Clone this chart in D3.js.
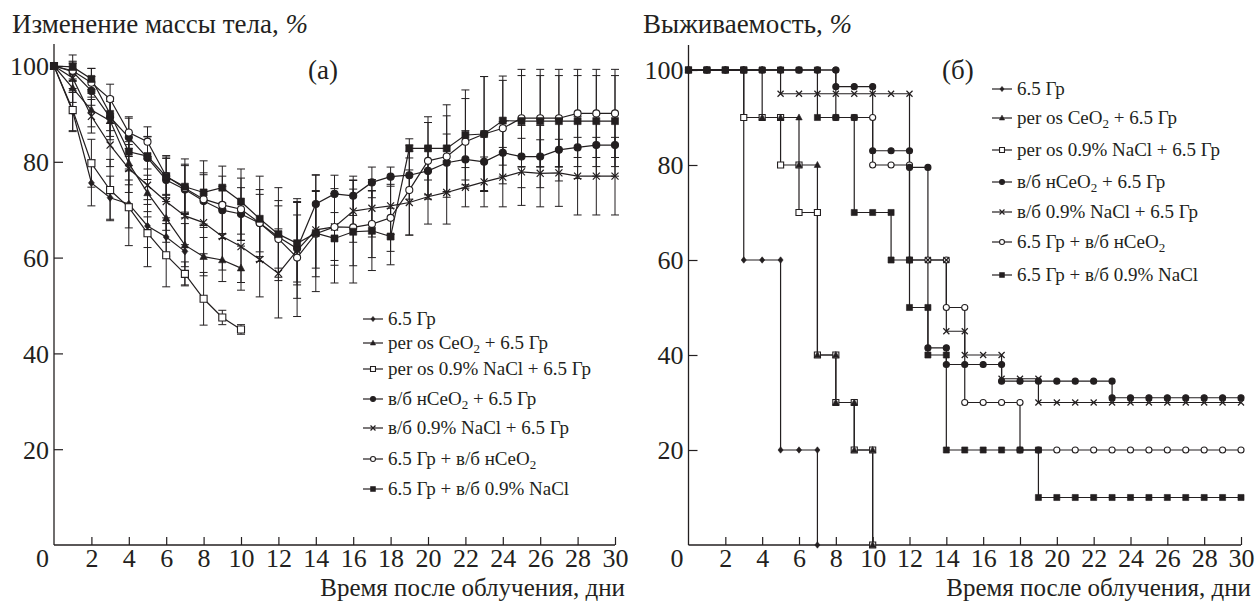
<!DOCTYPE html>
<html><head><meta charset="utf-8">
<script src="https://cdn.jsdelivr.net/npm/d3@7"></script>
<style>
body{margin:0;background:#fff}
svg{display:block}
text{font-family:"Liberation Serif","Times New Roman",serif;fill:#231f20}
</style>
</head><body>
<svg id="chart" width="1259" height="603"></svg>
<script>
// ---------- DATA ----------
const groupNames = ["6.5 Гр","per os CeO₂ + 6.5 Гр","per os 0.9% NaCl + 6.5 Гр","в/б нCeO₂ + 6.5 Гр","в/б 0.9% NaCl + 6.5 Гр","6.5 Гр + в/б нCeO₂","6.5 Гр + в/б 0.9% NaCl"];
const dayTicks = [0,2,4,6,8,10,12,14,16,18,20,22,24,26,28,30];
const valueTicks = [20,40,60,80,100];
const days = [0,1,2,3,4,5,6,7,8,9,10,11,12,13,14,15,16,17,18,19,20,21,22,23,24,25,26,27,28,29,30];

// (a) body mass change, % (mean and error)
const massGy      = [100,90.5,75.6,72.5,71.2,66.6,64.3,61.3];
const massGySd    = [0,4.0,4.8,4.5,5.0,4.5,4.0,7.0];
const massOralCe  = [100,95.4,90.8,88.6,79.7,73.5,68.2,62.6,60.2,59.5,57.8];
const massOralCeSd= [0,3.0,3.5,4.0,4.5,5.0,5.0,4.5,4.0,4.5,4.6];
const massOralNa  = [100,90.8,79.7,74.1,70.5,65.1,60.5,56.6,51.4,47.5,45.0];
const massOralNaSd= [0,4.5,5.0,6.4,8.0,7.0,6.6,2.5,5.5,1.5,1.0];
const massIpCe    = [100,98.8,94.8,89.3,85.1,80.8,76.2,74.2,71.8,69.9,69.1,67.2,64.3,61.9,71.2,73.3,72.9,75.7,76.9,77.2,78.1,79.8,80.5,80.0,81.9,81.1,81.1,82.5,83.0,83.5,83.5];
const massIpCeSd  = [0,2.0,3.0,4.0,4.0,4.5,4.5,5.0,5.5,5.0,5.5,6.0,6.5,7.0,6.0,3.9,4.1,3.2,2.0,5.0,5.0,6.0,6.0,6.0,6.5,6.5,6.5,6.5,6.5,6.5,6.5];
const massIpNa    = [100,97.5,89.5,83.5,78.6,75.1,71.7,68.7,67.3,64.4,62.3,59.6,56.7,61.5,65.8,66.4,69.7,70.3,70.8,71.5,72.7,73.6,74.7,75.8,76.8,77.9,77.6,77.7,77.0,77.0,77.0];
const massIpNaSd  = [0,3.0,3.5,4.5,5.0,5.5,6.0,6.0,6.5,7.0,7.5,7.8,9.3,10.0,8.0,7.0,6.5,6.0,6.0,6.8,5.7,6.6,4.1,5.2,6.2,7.0,7.0,7.0,8.1,8.1,8.1];
const massPostCe  = [100,99.0,96.5,93.1,86.1,84.2,77.0,74.5,72.2,71.0,70.1,67.2,63.9,60.0,65.0,66.4,66.3,67.0,68.3,74.1,80.2,81.1,84.2,85.8,87.0,89.1,89.1,89.1,90.1,90.1,90.1];
const massPostCeSd= [0,2.0,3.0,3.1,3.3,3.1,4.0,5.0,5.5,6.0,6.5,7.0,8.0,12.3,9.0,8.0,8.0,7.0,7.0,9.4,8.0,8.5,9.0,12.0,10.0,10.2,10.2,10.2,9.2,9.2,9.2];
const massPostNa  = [100,99.8,97.3,90.0,82.1,81.2,76.9,74.8,73.6,74.6,71.7,68.1,64.9,63.0,65.1,64.0,65.4,65.6,64.4,82.8,82.8,82.8,85.6,85.8,88.6,88.5,88.5,88.5,88.5,88.5,88.5];
const massPostNaSd= [0,2.5,2.2,3.5,4.0,4.0,4.4,5.8,6.6,4.5,6.8,8.9,9.7,8.7,12.2,9.3,10.7,8.3,5.9,2.0,6.6,9.1,9.4,12.0,9.3,9.5,9.5,9.5,9.5,9.5,9.5];

// (б) survival, % (step points: day, value)
const survGyDays      = [0,1,2,3,3,4,5,5,6,7,7];
const survGyVals      = [100,100,100,100,60,60,60,20,20,20,0];
const survOralCeDays  = [0,1,2,3,4,4,5,6,6,7,7,8,8,9,9,10,10];
const survOralCeVals  = [100,100,100,100,100,90,90,90,80,80,40,40,30,30,20,20,0];
const survOralNaDays  = [0,1,2,3,3,4,5,5,6,6,7,7,8,8,9,9,10,10];
const survOralNaVals  = [100,100,100,100,90,90,90,80,80,70,70,40,40,30,30,20,20,0];
const survIpCeDays    = [0,1,2,3,4,5,6,7,8,8,9,10,10,11,12,12,13,13,14,14,15,16,17,17,18,19,20,21,22,23,23,24,25,26,27,28,29,30];
const survIpCeVals    = [100,100,100,100,100,100,100,100,100,96.5,96.5,96.5,83,83,83,79.5,79.5,41.5,41.5,38,38,38,38,34.5,34.5,34.5,34.5,34.5,34.5,34.5,31,31,31,31,31,31,31,31];
const survIpNaDays    = [0,1,2,3,4,5,5,6,7,8,9,10,11,12,12,13,14,14,15,15,16,17,17,18,19,19,20,21,22,23,24,25,26,27,28,29,30];
const survIpNaVals    = [100,100,100,100,100,100,95,95,95,95,95,95,95,95,60,60,60,45,45,40,40,40,35,35,35,30,30,30,30,30,30,30,30,30,30,30,30];
const survPostCeDays  = [0,1,2,3,4,5,6,7,8,8,9,10,10,11,12,12,13,14,14,15,15,16,17,18,18,19,20,21,22,23,24,25,26,27,28,29,30];
const survPostCeVals  = [100,100,100,100,100,100,100,100,100,90,90,90,80,80,80,60,60,60,50,50,30,30,30,30,20,20,20,20,20,20,20,20,20,20,20,20,20];
const survPostNaDays  = [0,1,2,3,4,5,6,7,7,8,9,9,10,11,11,12,12,13,13,14,14,15,16,17,18,19,19,20,21,22,23,24,25,26,27,28,29,30];
const survPostNaVals  = [100,100,100,100,100,100,100,100,90,90,90,70,70,70,60,60,50,50,40,40,20,20,20,20,20,20,10,10,10,10,10,10,10,10,10,10,10,10];

// ---------- STYLE ----------
const ink = "#231f20";
const symbolTypes = ["diamond","triangle","squareOpen","circle","cross","circleOpen","square"];
const leftSize = 3.7, rightSize = 3.2, legendSize = 2.6;
const bigFont = 27, tickFont = 26, xTitleFont = 25;

const svg = d3.select("#chart");

function markerPath(type, r){
  switch(type){
    case "diamond": return `M0,${-r}L${r*0.8},0L0,${r}L${-r*0.8},0Z`;
    case "triangle": return `M0,${-r*1.1}L${r*1.0},${r*0.75}L${-r*1.0},${r*0.75}Z`;
    case "square": case "squareOpen": { const s=r*0.95; return `M${-s},${-s}H${s}V${s}H${-s}Z`; }
    case "cross": { const s=r*0.95; return `M${-s},${-s}L${s},${s}M${-s},${s}L${s},${-s}`; }
  }
  return null;
}
function drawMarker(g, type, x, y, r){
  const open = type==="squareOpen"||type==="circleOpen";
  if(type==="circle"||type==="circleOpen"){
    g.append("circle").attr("cx",x).attr("cy",y).attr("r",r*0.95)
      .attr("fill",open?"#fff":ink).attr("stroke",ink).attr("stroke-width",1.1);
  } else if(type==="cross"){
    g.append("path").attr("d",markerPath(type,r)).attr("transform",`translate(${x},${y})`)
      .attr("fill","none").attr("stroke",ink).attr("stroke-width",1.2);
  } else {
    g.append("path").attr("d",markerPath(type,r)).attr("transform",`translate(${x},${y})`)
      .attr("fill",open?"#fff":ink).attr("stroke",ink).attr("stroke-width",open?1.1:0.6);
  }
}
function addLabel(textSel, str){
  const parts = str.split("₂");
  parts.forEach((p,i)=>{
    const t = textSel.append("tspan").text(p);
    if(i>0) t.attr("dy",-4);
    if(i<parts.length-1){
      textSel.append("tspan").text("2").attr("font-size",13).attr("dy",4);
    }
  });
}

function drawAxes(x, y, yTop, title, titleX, xTitleEnd, panelLabel, panelLabelX){
  const g = svg.append("g");
  g.append("line").attr("x1",x(0)).attr("x2",x(0)).attr("y1",y(0)).attr("y2",yTop)
    .attr("stroke",ink).attr("stroke-width",1.3);
  g.append("line").attr("x1",x(0)).attr("x2",x(30)).attr("y1",y(0)).attr("y2",y(0))
    .attr("stroke",ink).attr("stroke-width",1.3);
  const xa = g.append("g").attr("transform",`translate(0,${y(0)})`)
    .call(d3.axisBottom(x).tickValues(dayTicks).tickSize(-8).tickPadding(8).tickFormat(d3.format("d")));
  xa.select(".domain").remove();
  xa.selectAll(".tick line").attr("stroke",ink).attr("stroke-width",1.2);
  xa.selectAll(".tick text").attr("font-family","Liberation Serif, serif").attr("font-size",tickFont).attr("fill",ink)
    .attr("y",null).attr("dy",null).attr("transform","translate(0,22)")
    .attr("dx",d=>d===0?-12:0);
  xa.selectAll(".tick").filter(d=>d===0).select("line").remove();
  const ya = g.append("g").attr("transform",`translate(${x(0)},0)`)
    .call(d3.axisLeft(y).tickValues(valueTicks).tickSize(-9).tickPadding(5));
  ya.select(".domain").remove();
  ya.selectAll(".tick line").attr("stroke",ink).attr("stroke-width",1.2);
  ya.selectAll(".tick text").attr("font-family","Liberation Serif, serif").attr("font-size",tickFont).attr("fill",ink).attr("dy","0.34em");
  const t = g.append("text").attr("x",titleX).attr("y",33).attr("font-size",bigFont);
  t.append("tspan").text(title);
  t.append("tspan").text("%").attr("font-style","italic");
  g.append("text").attr("x",xTitleEnd).attr("y",596).attr("text-anchor","end").attr("font-size",xTitleFont)
    .text("Время после облучения, дни");
  g.append("text").attr("x",panelLabelX).attr("y",79).attr("font-size",bigFont).text(panelLabel);
}

function drawLegend(x0, rows){
  const g = svg.append("g");
  groupNames.forEach((name,i)=>{
    const yy = rows[i];
    g.append("line").attr("x1",x0).attr("x2",x0+20).attr("y1",yy).attr("y2",yy)
      .attr("stroke",ink).attr("stroke-width",1.2);
    drawMarker(g, symbolTypes[i], x0+10, yy, legendSize);
    const t = g.append("text").attr("x",x0+25).attr("y",yy).attr("dy","0.33em").attr("font-size",19);
    addLabel(t, name);
  });
}

// ---------- PANEL (a) ----------
const xa = d3.scaleLinear().domain([0,30]).range([54,615]);
const ya = d3.scaleLinear().domain([0,100]).range([545,66]);
drawAxes(xa, ya, 44, "Изменение массы тела, ", 12, 625, "(а)", 308);

const massSeries = [
  {vals:massGy, sd:massGySd},
  {vals:massOralCe, sd:massOralCeSd},
  {vals:massOralNa, sd:massOralNaSd},
  {vals:massIpCe, sd:massIpCeSd},
  {vals:massIpNa, sd:massIpNaSd},
  {vals:massPostCe, sd:massPostCeSd},
  {vals:massPostNa, sd:massPostNaSd}
];
const gA = svg.append("g");
massSeries.forEach(s=>{
  s.vals.forEach((v,i)=>{
    const e = s.sd[i]; if(!e) return;
    const xx = xa(days[i]);
    gA.append("line").attr("x1",xx).attr("x2",xx).attr("y1",ya(v-e)).attr("y2",ya(v+e)).attr("stroke",ink).attr("stroke-width",1);
    [v-e,v+e].forEach(w=>gA.append("line").attr("x1",xx-4).attr("x2",xx+4).attr("y1",ya(w)).attr("y2",ya(w)).attr("stroke",ink).attr("stroke-width",1));
  });
});
const lineA = d3.line().x((d,i)=>xa(days[i])).y(d=>ya(d));
massSeries.forEach(s=>{
  gA.append("path").attr("d",lineA(s.vals)).attr("fill","none").attr("stroke",ink).attr("stroke-width",1.2);
});
const orderA = [4,1,0,2,3,5,6];
orderA.forEach(k=>{
  massSeries[k].vals.forEach((v,i)=>drawMarker(gA, symbolTypes[k], xa(days[i]), ya(v), leftSize));
});
drawLegend(363, [319,343,369,399,428,459,489]);

// ---------- PANEL (б) ----------
const xb = d3.scaleLinear().domain([0,30]).range([688.5,1241]);
const yb = d3.scaleLinear().domain([0,100]).range([545,70]);
drawAxes(xb, yb, 45, "Выживаемость, ", 643, 1251, "(б)", 942);

const survSeries = [
  {d:survGyDays, v:survGyVals},
  {d:survOralCeDays, v:survOralCeVals},
  {d:survOralNaDays, v:survOralNaVals},
  {d:survIpCeDays, v:survIpCeVals},
  {d:survIpNaDays, v:survIpNaVals},
  {d:survPostCeDays, v:survPostCeVals},
  {d:survPostNaDays, v:survPostNaVals}
];
const gB = svg.append("g");
survSeries.forEach(s=>{
  const pts = s.d.map((dd,i)=>[xb(dd), yb(s.v[i])]);
  gB.append("path").attr("d",d3.line()(pts)).attr("fill","none").attr("stroke",ink).attr("stroke-width",1.2);
});
const orderB = [2,5,0,1,4,6,3];
orderB.forEach(k=>{
  const s = survSeries[k];
  s.d.forEach((dd,i)=>drawMarker(gB, symbolTypes[k], xb(dd), yb(s.v[i]), rightSize));
});
drawLegend(992, [89,118,150,182,212,242,275]);
</script>
</body></html>
